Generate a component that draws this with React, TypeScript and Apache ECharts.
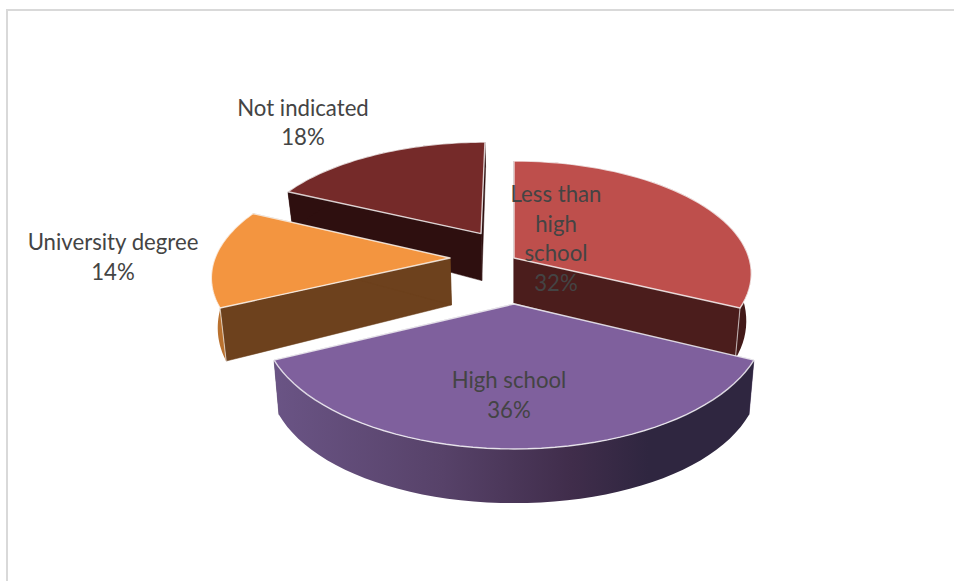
import React, { useEffect, useRef } from "react";
import * as echarts from "echarts";

// Survey shares by education level, clockwise from twelve o'clock.
const categories = ["Less than\nhigh\nschool", "High school", "University degree", "Not indicated"];
const shares = [32, 36, 14, 18];

const topColors = ["#BE4F4C", "#7F609D", "#F39540", "#752A29"];
const wallColors = ["#4B1D1C", "#4F3C62", "#6D411D", "#2E0F0F"];
const rimColors = ["#431A19", "", "#B9712F", "#2E0F0F"];

// How far each wedge is pulled away from the pie's centre, in disc radii.
const explode = [0, 0.3935, 0.272, 0.27];
// Painting order: back wedges first.
const paintRank = [2, 3, 1, 0];
const labelCentres = [
  [556, 238],
  [509, 394.5],
  [113, 256.5],
  [303, 122],
];

const TOP = { cx: 514, cy: 258, a: 235, b: 110.5, k: 0.139 };
const BASE = { cx: 514, cy: 303, a: 230, b: 127, kx: 0.14, ky: 0.083 };
const drop = [0, 0, 2, 6];

type Pt = [number, number];

const topPoint = (x: number, y: number): Pt => {
  const w = 1 + TOP.k * y;
  return [TOP.cx + (TOP.a * x) / w, TOP.cy - (TOP.b * y) / w];
};

const basePoint = (x: number, y: number, extra: number): Pt => [
  BASE.cx + (BASE.a * x) / (1 + BASE.kx * y),
  BASE.cy + extra - (BASE.b * y) / (1 + BASE.ky * y),
];

const total = shares.reduce((s, v) => s + v, 0);
const startAngles = shares.map((_, i) =>
  (shares.slice(0, i).reduce((s, v) => s + v, 0) / total) * Math.PI * 2,
);

const purpleFront = new echarts.graphic.LinearGradient(0, 0, 1, 0, [
  { offset: 0, color: "#6A5485" },
  { offset: 0.35, color: "#574269" },
  { offset: 0.62, color: "#402D4B" },
  { offset: 0.78, color: "#2F2640" },
  { offset: 1, color: "#2F2640" },
]);

function renderWedge(params: any, api: any) {
  const i = params.dataIndex;
  const value = api.value(0) as number;
  const start = startAngles[i];
  const sweep = (value / total) * Math.PI * 2;
  const mid = start + sweep / 2;
  const ox = explode[i] * Math.sin(mid);
  const oy = explode[i] * Math.cos(mid);

  const steps = 48;
  const rimTop: Pt[] = [];
  const rimBase: Pt[] = [];
  for (let s = 0; s <= steps; s++) {
    const t = start + (sweep * s) / steps;
    const x = ox + Math.sin(t);
    const y = oy + Math.cos(t);
    rimTop.push(topPoint(x, y));
    rimBase.push(basePoint(x, y, drop[i]));
  }
  const apexTop = topPoint(ox, oy);
  const apexBase = basePoint(ox, oy, drop[i]);
  const z = paintRank[i] * 10;

  const wall = (a: Pt, b: Pt, c: Pt, d: Pt, fill: any, z2: number) => ({
    type: "polygon",
    z2,
    shape: { points: [a, b, c, d] },
    style: { fill, stroke: fill, lineWidth: 0.5 },
  });

  const children: any[] = [
    wall(apexTop, rimTop[0], rimBase[0], apexBase, wallColors[i], z),
    wall(apexTop, rimTop[steps], rimBase[steps], apexBase, wallColors[i], z),
    {
      type: "polygon",
      z2: z + 1,
      shape: { points: [...rimTop, ...rimBase.slice().reverse()] },
      style: { fill: i === 1 ? purpleFront : rimColors[i] },
    },
    {
      type: "polygon",
      z2: z + 3,
      shape: { points: [apexTop, ...rimTop] },
      style: { fill: topColors[i], stroke: "rgba(255,255,255,0.78)", lineWidth: 1.4, lineJoin: "round" },
    },
    {
      type: "text",
      z2: 100,
      x: labelCentres[i][0],
      y: labelCentres[i][1],
      style: {
        text: `${categories[i]}\n${Math.round((value / total) * 100)}%`,
        fill: "#444444",
        font: '22.2px Lato, "Open Sans", sans-serif',
        lineHeight: 29.5,
        align: "center",
        verticalAlign: "middle",
      },
    },
  ];

  // Light corner where the cut face meets the outer wall.
  if (i === 0 || i === 2) {
    const end = i === 0 ? steps : 0;
    children.push({
      type: "line",
      z2: z + 2,
      shape: { x1: rimTop[end][0], y1: rimTop[end][1], x2: rimBase[end][0], y2: rimBase[end][1] },
      style: { stroke: "rgba(255,255,255,0.6)", lineWidth: 1.1 },
    });
  }
  return { type: "group", children };
}

export default function App() {
  const ref = useRef<HTMLDivElement>(null);
  useEffect(() => {
    const chart = echarts.init(ref.current!, null, { renderer: "svg" });
    chart.setOption({
      animation: false,
      backgroundColor: "#FFFFFF",
      graphic: [
        {
          type: "polyline",
          shape: { points: [[7, 581], [7, 10], [954, 10]] },
          style: { stroke: "#D9D9D9", lineWidth: 2, fill: "none" },
        },
      ],
      series: [
        {
          type: "custom",
          coordinateSystem: "none",
          renderItem: renderWedge,
          data: shares.map((v) => [v]),
          silent: true,
        },
      ],
    });
    return () => chart.dispose();
  }, []);
  return <div ref={ref} style={{ position: "absolute", left: 0, top: 0, width: 954, height: 581 }} />;
}
